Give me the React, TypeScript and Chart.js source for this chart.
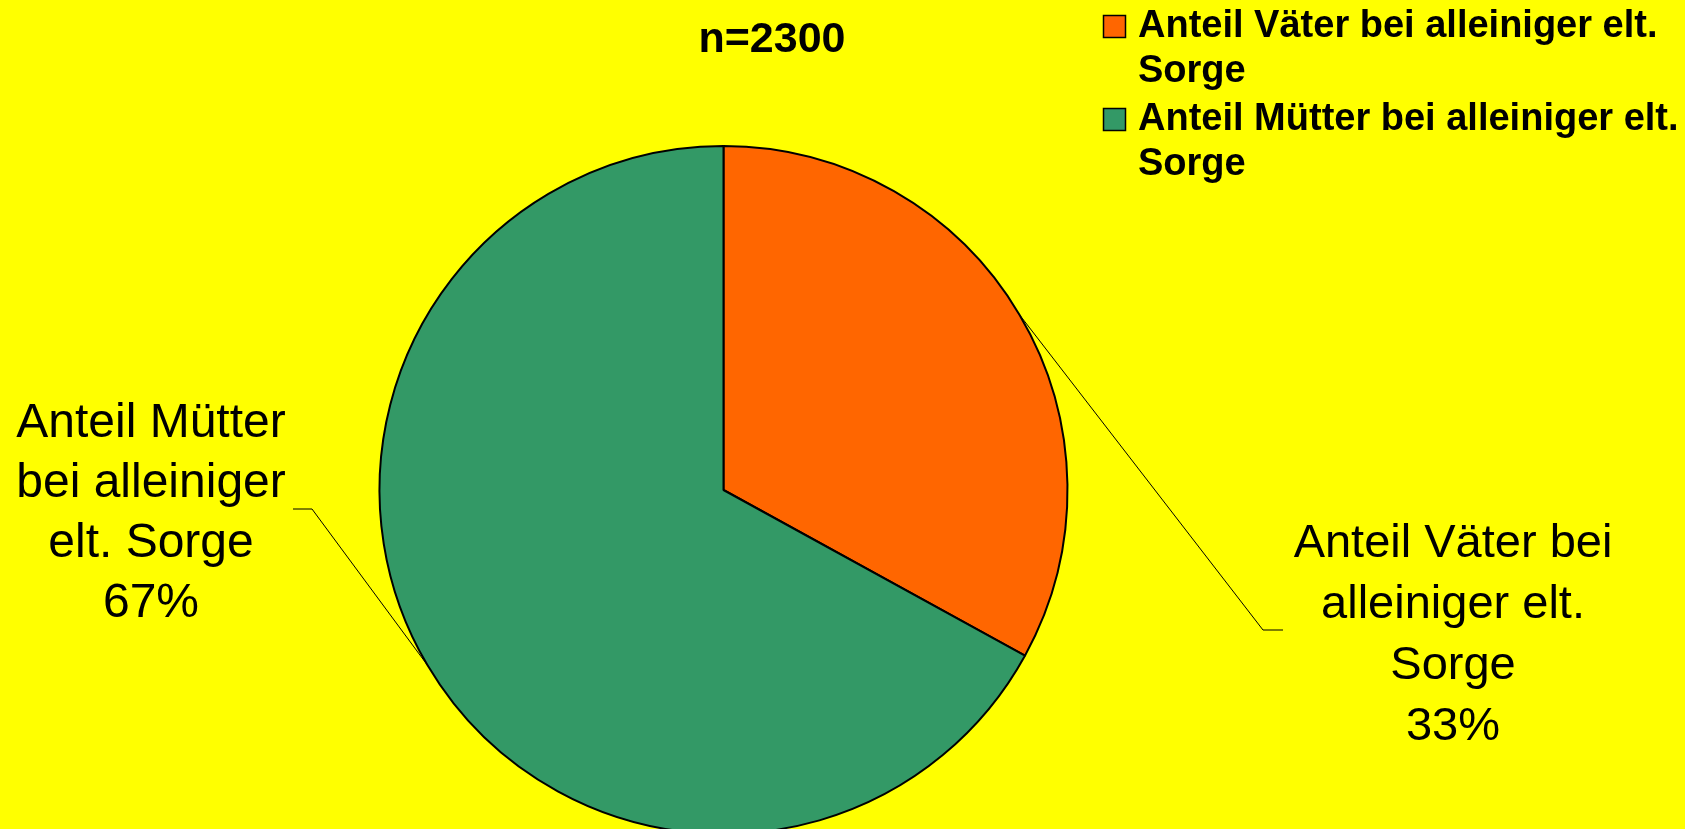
import React, { useEffect, useRef } from "react";
import { Chart, registerables } from "chart.js";

Chart.register(...registerables);

// ---- data ----
const categories = [
  "Anteil Väter bei alleiniger elt. Sorge",
  "Anteil Mütter bei alleiniger elt. Sorge",
];
const values = [33, 67];
const sliceColors = ["#FF6600", "#339966"];
const titleText = "n=2300";
const legendLines = [
  ["Anteil Väter bei alleiniger elt.", "Sorge"],
  ["Anteil Mütter bei alleiniger elt.", "Sorge"],
];
const dataLabelLines = [
  ["Anteil Väter bei", "alleiniger elt.", "Sorge"],
  ["Anteil Mütter", "bei alleiniger", "elt. Sorge"],
];

// ---- layout (annotation placement) ----
const W = 1685;
const H = 829;
const CANVAS_H = 860; // pie slightly overflows the visible bottom edge
const labelLayout = [
  { elbowX: 1263, elbowY: 630, endX: 1283, cx: 1453, baseline: 557, lh: 61, size: 47 },
  { elbowX: 312, elbowY: 509, endX: 293, cx: 151, baseline: 437, lh: 60, size: 48 },
];

const FONT = "'Liberation Sans', Arial, Helvetica, sans-serif";

const decorPlugin = {
  id: "decor",
  beforeDraw(chart: any) {
    const ctx = chart.ctx;
    ctx.save();
    ctx.fillStyle = "#FFFF00";
    ctx.fillRect(0, 0, chart.width, chart.height);
    ctx.restore();
  },
  afterDatasetsDraw(chart: any) {
    const ctx = chart.ctx;
    const meta = chart.getDatasetMeta(0);
    const total = values.reduce((a, b) => a + b, 0);

    // title
    ctx.save();
    ctx.fillStyle = "#000";
    ctx.font = `bold 43px ${FONT}`;
    ctx.textAlign = "center";
    ctx.textBaseline = "alphabetic";
    ctx.fillText(titleText, 772, 52);
    ctx.restore();

    // legend
    ctx.save();
    const boxTops = [15.5, 108.5];
    const baselines = [37, 130];
    legendLines.forEach((lines, i) => {
      const top = boxTops[i];
      ctx.fillStyle = sliceColors[i];
      ctx.fillRect(1103.5, top, 22, 22);
      ctx.strokeStyle = "#000";
      ctx.lineWidth = 1.5;
      ctx.strokeRect(1103.5, top, 22, 22);
      ctx.fillStyle = "#000";
      ctx.font = `bold 38px ${FONT}`;
      ctx.textAlign = "left";
      ctx.textBaseline = "alphabetic";
      lines.forEach((ln, j) => {
        ctx.fillText(ln, 1138, baselines[i] + j * 45);
      });
    });
    ctx.restore();

    // data labels with leader lines
    meta.data.forEach((arc: any, i: number) => {
      const p = arc.getProps(["x", "y", "startAngle", "endAngle", "outerRadius"], true);
      const mid = (p.startAngle + p.endAngle) / 2;
      const sx = p.x + p.outerRadius * Math.cos(mid);
      const sy = p.y + p.outerRadius * Math.sin(mid);
      const L = labelLayout[i];
      ctx.save();
      ctx.strokeStyle = "#000";
      ctx.lineWidth = 1;
      ctx.beginPath();
      ctx.moveTo(sx, sy);
      ctx.lineTo(L.elbowX, L.elbowY);
      ctx.lineTo(L.endX, L.elbowY);
      ctx.stroke();

      const pct = Math.round((values[i] / total) * 100) + "%";
      const lines = [...dataLabelLines[i], pct];
      ctx.fillStyle = "#000";
      ctx.font = `${L.size}px ${FONT}`;
      ctx.textAlign = "center";
      ctx.textBaseline = "alphabetic";
      lines.forEach((ln, j) => {
        ctx.fillText(ln, L.cx, L.baseline + j * L.lh);
      });
      ctx.restore();
    });
  },
};

export default function App() {
  const ref = useRef<HTMLCanvasElement | null>(null);

  useEffect(() => {
    document.body.style.margin = "0";
    document.body.style.overflow = "hidden";
    const canvas = ref.current;
    if (!canvas) return;
    const chart = new Chart(canvas, {
      type: "pie",
      data: {
        labels: categories,
        datasets: [
          {
            data: values,
            backgroundColor: sliceColors,
            borderColor: "#000000",
            borderWidth: 2,
          },
        ],
      },
      options: {
        responsive: false,
        animation: false,
        devicePixelRatio: 1,
        radius: 344,
        layout: { padding: { left: 300, right: 538, top: 144, bottom: CANVAS_H - 836 } },
        plugins: {
          legend: { display: false },
          title: { display: false },
          tooltip: { enabled: false },
        },
      },
      plugins: [decorPlugin],
    });
    return () => chart.destroy();
  }, []);

  return (
    <div style={{ width: W, height: H, overflow: "hidden", background: "#FFFF00" }}>
      <canvas ref={ref} width={W} height={CANVAS_H} style={{ display: "block" }} />
    </div>
  );
}
